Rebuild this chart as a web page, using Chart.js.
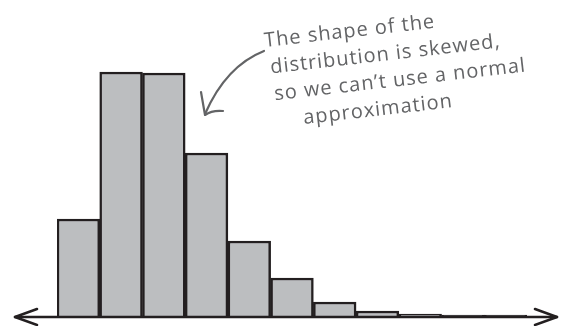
<!DOCTYPE html>
<html>
<head>
<meta charset="utf-8">
<script src="https://cdn.jsdelivr.net/npm/chart.js@4"></script>
<style>
    html, body { margin: 0; padding: 0; background: #fff; }
    #wrap { width: 564px; height: 326px; }
</style>
</head>
<body>
<div id="wrap"><canvas id="histChart"></canvas></div>
<script>
// histogram bins and their (relative) frequencies, in percent
const bins = ['0', '1', '2', '3', '4', '5', '6', '7', '8', '9', '10'];
const freq = [9.8, 24.5, 24.4, 16.4, 7.6, 3.9, 1.5, 0.6, 0.3, 0.2, 0.2];
const note = ['The shape of the', 'distribution is skewed,', 'so we can\u2019t use a normal', 'approximation'];

const ink = '#231f20';
const pencil = '#636466';

// axis line with arrowheads at both ends, plus the hand-written note
const decor = {
    id: 'decor',
    afterDatasetsDraw(chart) {
        const c = chart.ctx;
        const y = chart.scales.y.getPixelForValue(0);
        const w = chart.width;
        c.save();
        c.strokeStyle = ink;
        c.lineWidth = 2.5;
        c.lineCap = 'round';
        c.lineJoin = 'round';
        c.beginPath();
        c.moveTo(15, y);
        c.lineTo(w - 7, y);
        c.stroke();
        c.beginPath();
        c.moveTo(37, y - 8); c.lineTo(15, y); c.lineTo(37, y + 8);
        c.moveTo(w - 29, y - 8); c.lineTo(w - 7, y); c.lineTo(w - 29, y + 8);
        c.stroke();

        // curved pointer
        c.strokeStyle = pencil;
        c.lineWidth = 2.2;
        c.beginPath();
        c.moveTo(264, 51);
        c.quadraticCurveTo(226, 66, 205, 114);
        c.stroke();
        c.beginPath();
        c.moveTo(201, 92);
        c.lineTo(205, 115);
        c.quadraticCurveTo(212, 110, 223, 111);
        c.stroke();

        // note text
        c.fillStyle = pencil;
        c.font = '20px "Open Sans"';
        c.letterSpacing = '1px';
        c.textBaseline = 'alphabetic';
        c.translate(265, 47);
        c.rotate(-6.5 * Math.PI / 180);
        const dx = [0, 3, 4, 30];
        note.forEach((line, i) => {
            c.fillText(line, dx[i], i * 27);
        });
        c.restore();
    }
};

const ctx = document.getElementById('histChart').getContext('2d');
const chart = new Chart(ctx, {
    type: 'bar',
    data: {
        labels: bins,
        datasets: [{
            data: freq,
            backgroundColor: '#bcbec0',
            borderColor: ink,
            borderWidth: 2.5,
            barPercentage: 1,
            categoryPercentage: 1
        }]
    },
    options: {
        responsive: true,
        maintainAspectRatio: false,
        animation: false,
        layout: {
            padding: { left: 57, right: 37, top: 67, bottom: 9 }
        },
        plugins: {
            legend: { display: false },
            tooltip: { enabled: false }
        },
        scales: {
            x: { display: false },
            y: { display: false, min: 0, max: 25 }
        }
    },
    plugins: [decor]
});
</script>
</body>
</html>
